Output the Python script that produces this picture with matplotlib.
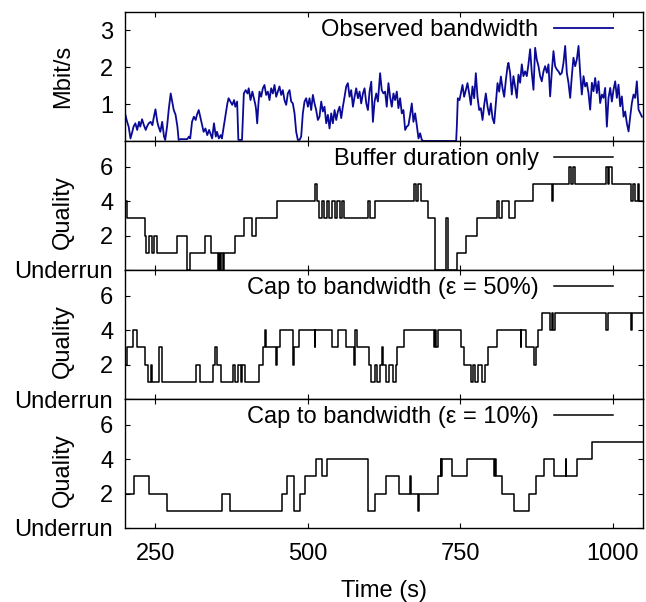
import matplotlib
matplotlib.use("Agg")
import matplotlib.pyplot as plt

plt.rcParams['font.family'] = ['Liberation Sans', 'DejaVu Sans']
plt.rcParams['font.size'] = 17

# Observed bandwidth samples (time in s, throughput in Mbit/s)
bw_time = [
    200, 203.5, 206, 209, 212, 214, 217, 220, 223, 225, 228, 231, 234, 236, 239, 242, 245, 247, 250, 253,
    255, 258, 261, 264, 266, 269, 272, 275, 277, 280, 283, 286, 288, 291, 294, 297, 299, 302, 305, 307,
    310, 313, 316, 318, 321, 324, 327, 329, 332, 335, 338, 340, 343, 346, 349, 351, 354, 357, 359, 362,
    365, 368, 370, 373, 376, 379, 381, 384, 386, 389, 392, 395, 398, 401, 403, 406, 409, 411, 414,
    415.2, 416.9, 419, 420.7, 423.4, 426.2, 428.9, 431.6, 434.4, 437.1, 439.8, 442.6, 445.3, 448.1, 450.8,
    453.5, 456.3, 459, 461.7, 464.5, 467.2, 470, 472.7, 475.4, 478.2, 480.9, 483.6, 486.4, 489.1, 491.8,
    494.6, 497.3, 500.1, 502.8, 505.5, 508.3, 511, 513.7, 516.5, 519.2, 522, 524.7, 527.4, 530.2, 532.9,
    535.6, 538.4, 541.1, 543.9, 546.6, 549.3, 552.1, 554.8, 557.5, 560.3, 563, 565.7, 568.5, 571.2, 574,
    576.7, 579.4, 582.2, 584.9, 587.6, 590.4, 593.1, 595.9, 598.6, 601.3, 604.1, 606.8, 609.5, 612.3, 615,
    618.6, 621.3, 624.1, 626.8, 629.5, 632.3, 635, 637.8, 640.5, 643.2, 646, 648.7, 651.4, 654.2, 656.9,
    659.7, 662.4, 665.1, 667.9, 670.6, 673.3, 676.1, 678.8, 681.6, 684.3, 687, 689.8, 743.4, 744.5, 746.1,
    748.9, 751.1, 753.8, 756.5, 759.3, 762, 764.8, 767.5, 770.2, 773, 775.7, 778.4, 781.2, 783.9, 786.7,
    789.4, 792.1, 794.9, 797.6, 800.3, 803.1, 805.8, 808.5, 811.3, 814, 816.8, 819.5, 822.2, 825, 827.7,
    829.2, 831.9, 834.7, 837.4, 840.1, 842.9, 845.6, 848.4, 851.1, 853.8, 856.6, 859.3, 862, 864.8, 867.5,
    870.3, 873, 875.7, 878.5, 881.2, 883.9, 886.7, 889.4, 892.2, 894.9, 897.6, 900.4, 903.1, 905.8, 908.6,
    911.3, 914.1, 916.8, 919.5, 922.3, 925, 927.7, 930.5, 933.2, 935.9, 938.7, 941.4, 944.2, 946.9, 949.6,
    952.4, 955.1, 957.8, 960.6, 963.3, 966.1, 968.8, 971.5, 974.3, 977, 979.7, 982.5, 985.2, 987.9, 990.7,
    993.4, 996.2, 998.9, 1001.6, 1004.4, 1007.1, 1009.8, 1012.6, 1015.3, 1018.1, 1020.8, 1023.5, 1026.3,
    1029, 1031.7, 1034.5, 1037.2, 1039.9, 1042.7, 1045.4, 1048.2,
]
bw_mbps = [
    0.75, 0.52, 0.39, 0.07, 0.25, 0.39, 0.48, 0.30, 0.52, 0.39, 0.59, 0.43, 0.30, 0.39, 0.48, 0.52, 0.43, 0.62, 0.86, 0.52,
    0.39, 0.25, 0.52, 0.12, 0.03, 0.39, 0.89, 1.29, 1.11, 0.84, 0.71, 0.39, 0.03, 0.05, 0.05, 0.05, 0.05, 0.05, 0.12, 0.07,
    0.52, 0.66, 0.57, 0.71, 0.84, 0.62, 0.39, 0.25, 0.34, 0.16, 0.30, 0.21, 0.07, 0.48, 0.12, 0.25, 0.07, 0.16, 0.07, 0.39,
    0.71, 1.02, 1.16, 1.07, 0.98, 1.11, 0.93, 1.07, 0.03, 0.03, 0.03, 1.29, 1.38, 1.29, 1.43, 1.11, 1.34, 1.20, 0.98,
    0.84, 0.48, 1.02, 1.34, 1.20, 1.43, 1.52, 1.25, 1.34, 1.11, 1.43, 1.29, 1.52, 1.20, 1.34,
    1.48, 1.25, 1.38, 1.11, 0.98, 1.29, 1.38, 1.07, 1.02, 0.75, 0.25, 0.03, 0.03, 0.12, 0.75,
    1.07, 1.16, 0.93, 1.16, 0.84, 1.25, 1.02, 0.84, 0.57, 0.66, 1.07, 0.80, 0.93, 0.48, 0.71,
    0.34, 0.75, 0.48, 0.84, 0.57, 0.80, 0.93, 0.62, 0.93, 1.20, 1.48, 1.57, 1.20, 1.38, 0.93,
    1.20, 1.43, 1.16, 1.34, 1.02, 1.29, 1.43, 1.02, 0.84, 1.34, 1.61, 0.52, 1.07, 1.29, 1.07,
    1.84, 1.38, 1.29, 1.34, 0.93, 1.57, 1.20, 0.93, 1.29, 1.11, 1.34, 0.89, 1.16, 0.75, 0.84,
    0.30, 0.39, 0.43, 0.71, 1.02, 0.52, 0.75, 0.43, 0.07, 0.21, 0.03, 0.0, 0.0, 0.39, 1.16,
    1.11, 1.29, 1.52, 1.20, 1.38, 1.57, 1.29, 0.98, 1.48, 1.16, 1.84, 1.20, 0.84, 0.89, 0.57,
    0.98, 1.29, 0.93, 0.71, 1.02, 0.62, 0.48, 1.02, 1.57, 1.34, 1.75, 1.43, 1.20, 1.66, 2.02,
    2.12, 1.85, 1.26, 1.76, 1.48, 1.17, 1.80, 1.58, 2.08, 1.76, 1.89, 1.76, 2.08, 2.49, 1.85,
    1.39, 2.53, 2.21, 2.03, 1.76, 1.62, 1.89, 2.03, 1.85, 2.08, 1.21, 1.89, 2.44, 2.03, 1.94,
    1.89, 1.80, 1.85, 2.12, 2.58, 1.85, 1.58, 1.17, 1.76, 2.26, 2.03, 2.21, 2.58, 1.85, 1.26,
    1.76, 1.48, 1.58, 1.30, 0.85, 1.58, 1.35, 1.71, 1.30, 1.62, 1.03, 1.26, 1.17, 1.44, 0.39,
    1.17, 1.44, 1.07, 1.39, 1.62, 1.17, 1.53, 0.94, 1.21, 0.66, 0.80, 0.48, 0.26,
    0.66, 1.03, 1.26, 1.17, 1.62, 0.85, 0.76, 0.66,
]

# Quality level chosen over time (0 = underrun); each level holds until the next change
buffer_t = [200, 204, 232, 235, 239, 244, 247, 252, 285, 302, 307, 331, 341, 352, 354, 356, 358, 360, 362,
            380, 395, 409, 415, 450, 511, 515, 519, 523, 527, 531, 535, 540, 544, 548, 552, 556, 560,
            598, 602, 611, 674, 678, 681, 685, 698, 709, 727, 730, 745, 760, 778, 810, 814, 818, 830,
            840, 869, 900, 902, 928, 932, 935, 939, 989, 992, 995, 999, 1030, 1034, 1037, 1041, 1044]
buffer_q = [4, 3, 2, 1, 2, 1, 2, 1, 2, 0, 1, 2, 1, 0, 1, 0, 1, 0, 1,
            2, 3, 2, 3, 4, 5, 4, 3, 4, 3, 4, 3, 4, 3, 4, 3, 4, 3,
            4, 3, 4, 5, 4, 5, 4, 3, 0, 3, 0, 1, 2, 3, 4, 3, 4, 3,
            4, 5, 4, 5, 6, 5, 6, 5, 6, 5, 6, 5, 4, 5, 4, 5, 4]

cap50_t = [200, 203, 213, 219, 233, 238, 243, 245, 255, 256, 261, 316, 323, 344, 347, 351, 358, 377, 380,
           385, 390, 392, 397, 420, 427, 429, 431, 447, 449, 455, 476, 478, 485, 511, 512, 540, 550,
           563, 576, 578, 581, 600, 604, 610, 613, 618, 622, 624, 628, 633, 640, 645, 647, 658, 707,
           709, 711, 713, 751, 756, 767, 771, 775, 780, 786, 790, 795, 811, 849, 850, 858, 871, 874,
           877, 885, 898, 900, 903, 905, 990, 993, 1030, 1032]
cap50_q = [2, 3, 4, 3, 2, 1, 2, 1, 2, 3, 1, 2, 1, 2, 3, 2, 1, 2, 1,
           2, 1, 2, 1, 2, 3, 4, 3, 2, 3, 4, 2, 3, 4, 3, 4, 3, 4,
           3, 2, 4, 3, 2, 1, 2, 1, 2, 3, 2, 1, 2, 1, 2, 3, 4, 3,
           4, 3, 4, 3, 2, 1, 2, 1, 2, 1, 2, 3, 4, 3, 4, 3, 2, 3,
           4, 5, 4, 5, 4, 5, 4, 5, 4, 5]

cap10_t = [200, 214, 239, 269, 359, 373, 458, 466, 477, 478, 487, 496, 513, 524, 532, 598, 611, 628,
           650, 668, 670, 680, 682, 713, 718, 719, 720, 737, 761, 806, 807, 809, 818, 838, 863, 874,
           888, 904, 923, 924, 942, 967]
cap10_q = [2, 3, 2, 1, 2, 1, 2, 3, 2, 1, 2, 3, 4, 3, 4, 1, 2, 3,
           2, 3, 2, 1, 2, 3, 4, 3, 4, 3, 4, 3, 4, 3, 2, 1, 2, 3,
           4, 3, 4, 3, 4, 5]

t_start, t_end = 200, 1050
time_ticks = [250, 500, 750, 1000]
bw_ticks = [1, 2, 3]
quality_ticks = [0, 2, 4, 6]
quality_labels = ['Underrun', '2', '4', '6']

fig = plt.figure(figsize=(6.46, 6.02), dpi=100)
axes = fig.subplots(4, 1, sharex=True, gridspec_kw=dict(hspace=0))
fig.subplots_adjust(left=125 / 646, right=643 / 646, top=1 - 12 / 602, bottom=1 - 528 / 602)

ax_bw = axes[0]
ax_bw.plot(bw_time, bw_mbps, color='#0a0a96', lw=1.3, label='Observed bandwidth')
ax_bw.set_ylim(0, 3.5)
ax_bw.set_yticks(bw_ticks)
ax_bw.set_ylabel('Mbit/s')
ax_bw.yaxis.set_label_coords(-0.098, 0.5)

series = [
    (buffer_t, buffer_q, 'Buffer duration only'),
    (cap50_t, cap50_q, 'Cap to bandwidth (ε = 50%)'),
    (cap10_t, cap10_q, 'Cap to bandwidth (ε = 10%)'),
]
for ax, (ts, qs, name) in zip(axes[1:], series):
    ax.step(ts + [t_end], qs + [qs[-1]], where='post', color='black', lw=1.1, label=name)
    ax.set_ylim(0, 7.5)
    ax.set_yticks(quality_ticks)
    ax.set_yticklabels(quality_labels)
    ax.set_ylabel('Quality')
    ax.yaxis.set_label_coords(-0.098, 0.45)

for ax in axes:
    ax.set_xlim(t_start, t_end)
    ax.set_xticks(time_ticks)
    ax.tick_params(direction='in', top=True, right=True, length=3.5, width=0.8, pad=8.5)
    ax.tick_params(axis='x', pad=11)
    for sp in ax.spines.values():
        sp.set_linewidth(1.0)
    ax.legend(loc='upper right', bbox_to_anchor=(0.942, 0.942), frameon=False, markerfirst=False,
              handlelength=2.5, handletextpad=0.65, borderpad=0, borderaxespad=0, fontsize=17)

axes[-1].set_xlabel('Time (s)')
axes[-1].xaxis.set_label_coords(0.5, -0.40)

fig.savefig('out.png', dpi=100)
